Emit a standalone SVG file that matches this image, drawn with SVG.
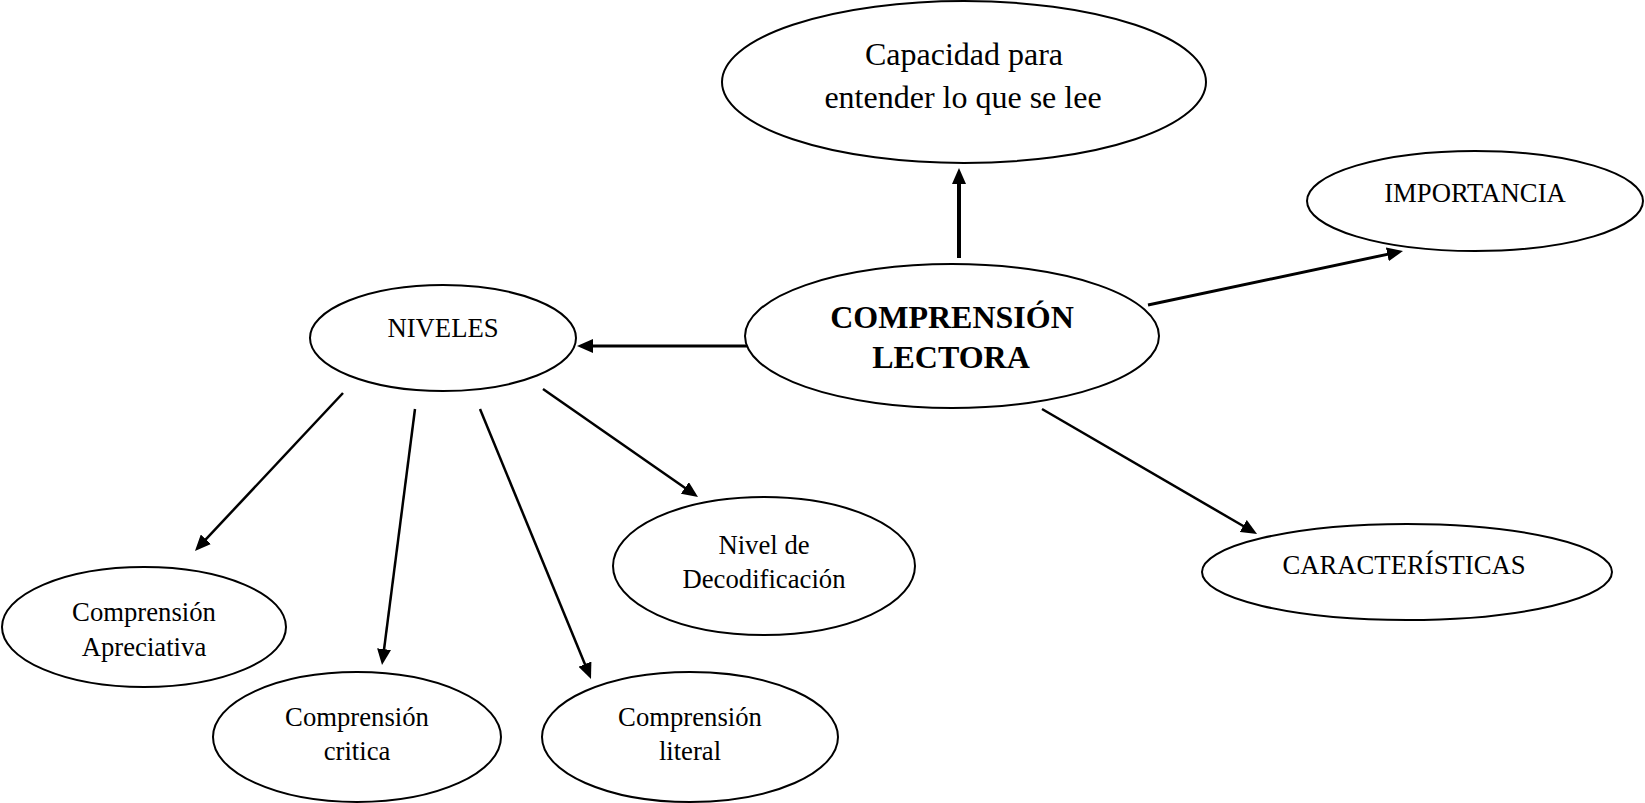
<svg xmlns="http://www.w3.org/2000/svg" width="1645" height="803" viewBox="0 0 1645 803">
<style>
  .node ellipse { fill: #ffffff; stroke: #000000; stroke-width: 2; }
  .node text { font-family: "Liberation Serif", "Times New Roman", serif; fill: #000000; text-anchor: middle; }
  .t { font-size: 26.7px; }
  .big { font-size: 32px; }
  .bold { font-size: 32px; font-weight: bold; }
  .conn line { stroke: #000000; stroke-width: 2.5; fill: none; marker-end: url(#arrow); }
</style>
<defs>
  <marker id="arrow" markerUnits="userSpaceOnUse" markerWidth="16" markerHeight="14" refX="6" refY="7" orient="auto" viewBox="0 0 16 14">
    <path d="M0,0 L16,7 L0,14 z" fill="#000000"/>
  </marker>
</defs>
<rect x="0" y="0" width="1645" height="803" fill="#ffffff"/>

<g id="connectors" class="conn">
  <line x1="959" y1="258" x2="959" y2="178" style="stroke-width:4"/>
  <line x1="747" y1="346" x2="587" y2="346" style="stroke-width:3"/>
  <line x1="1148" y1="305" x2="1393.2" y2="253.1" style="stroke-width:3"/>
  <line x1="1042" y1="409" x2="1248.4" y2="529"/>
  <line x1="343" y1="393" x2="201.8" y2="543.7"/>
  <line x1="415" y1="409" x2="383.3" y2="655.1"/>
  <line x1="480" y1="409" x2="587.2" y2="669.7"/>
  <line x1="543" y1="389" x2="689.8" y2="491.3"/>
</g>

<g id="node-capacidad" class="node">
  <ellipse cx="964" cy="82" rx="242" ry="81"/>
  <text class="big" x="964" y="65">Capacidad para</text>
  <text class="big" x="963" y="108">entender lo que se lee</text>
</g>

<g id="node-comprension" class="node">
  <ellipse cx="952" cy="336" rx="207" ry="72"/>
  <text class="bold" x="952" y="328">COMPRENSIÓN</text>
  <text class="bold" x="951" y="368">LECTORA</text>
</g>

<g id="node-niveles" class="node">
  <ellipse cx="443" cy="338" rx="133" ry="53"/>
  <text class="t" x="443" y="337">NIVELES</text>
</g>

<g id="node-importancia" class="node">
  <ellipse cx="1475" cy="201" rx="168" ry="50"/>
  <text class="t" x="1475" y="202">IMPORTANCIA</text>
</g>

<g id="node-caracteristicas" class="node">
  <ellipse cx="1407" cy="572" rx="205" ry="48"/>
  <text class="t" x="1404" y="574">CARACTERÍSTICAS</text>
</g>

<g id="node-apreciativa" class="node">
  <ellipse cx="144" cy="627" rx="142" ry="60"/>
  <text class="t" x="144" y="621">Comprensión</text>
  <text class="t" x="144" y="656">Apreciativa</text>
</g>

<g id="node-critica" class="node">
  <ellipse cx="357" cy="737" rx="144" ry="65"/>
  <text class="t" x="357" y="726">Comprensión</text>
  <text class="t" x="357" y="760">critica</text>
</g>

<g id="node-literal" class="node">
  <ellipse cx="690" cy="737" rx="148" ry="65"/>
  <text class="t" x="690" y="726">Comprensión</text>
  <text class="t" x="690" y="760">literal</text>
</g>

<g id="node-decodificacion" class="node">
  <ellipse cx="764" cy="566" rx="151" ry="69"/>
  <text class="t" x="764" y="554">Nivel de</text>
  <text class="t" x="764" y="588">Decodificación</text>
</g>
</svg>
